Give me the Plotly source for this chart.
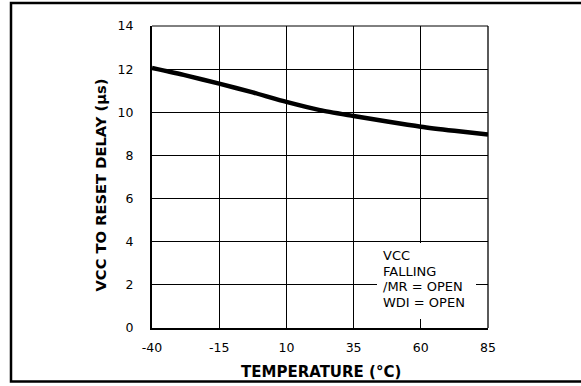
import plotly.graph_objects as go

# Reset delay vs temperature (VCC falling, /MR and WDI open)
temperature_c = [-40, -27.5, -15, -2.5, 10, 22.5, 35, 47.5, 60, 72.5, 85]
delay_us = [12.05, 11.71, 11.33, 10.92, 10.48, 10.10, 9.83, 9.57, 9.33, 9.14, 8.97]

x_ticks = [-40, -15, 10, 35, 60, 85]
y_ticks = [0, 2, 4, 6, 8, 10, 12, 14]
condition_lines = ["VCC", "FALLING", "/MR = OPEN", "WDI = OPEN"]

FONT = "DejaVu Sans, sans-serif"
W, H = 581, 386
L, R, T, B = 152, 93, 26, 58
PW, PH = W - L - R, H - T - B


def px_x(p):
    return (p - L) / PW


def px_y(p):
    return (H - B - p) / PH


fig = go.Figure()
fig.add_trace(go.Scatter(
    x=temperature_c, y=delay_us, mode="lines",
    line=dict(color="black", width=4.5, shape="spline", smoothing=0.6),
    hoverinfo="skip", showlegend=False,
))

shapes = [
    # outer frame around the whole figure
    dict(type="rect", xref="paper", yref="paper",
         x0=px_x(11), x1=px_x(620), y0=px_y(381.5), y1=px_y(3),
         line=dict(color="black", width=2.5), layer="above"),
    # top and right edges of the plot area
    dict(type="line", xref="paper", yref="paper", x0=0, x1=1, y0=1, y1=1,
         line=dict(color="black", width=1), layer="above"),
    dict(type="line", xref="paper", yref="paper", x0=1, x1=1, y0=0, y1=1,
         line=dict(color="black", width=1.3), layer="above"),
    # white panel behind the condition text
    dict(type="rect", xref="paper", yref="paper",
         x0=px_x(377), x1=px_x(476), y0=px_y(319), y1=px_y(243),
         fillcolor="white", line=dict(width=0), layer="above"),
]

annotations = []
for i, t in enumerate(condition_lines):
    annotations.append(dict(
        text=t, xref="paper", yref="paper",
        x=px_x(381), y=px_y(255.5 + i * 15.6),
        xanchor="left", yanchor="middle", showarrow=False,
        font=dict(family=FONT, size=13, color="black"),
    ))

annotations.append(dict(
    text="<b>TEMPERATURE (°C)</b>", xref="paper", yref="paper",
    x=px_x(321), y=px_y(372), xanchor="center", yanchor="middle", showarrow=False,
    font=dict(family=FONT, size=15, color="black"),
))
annotations.append(dict(
    text="<b>VCC TO RESET DELAY (µs)</b>", xref="paper", yref="paper",
    x=px_x(99.5), y=px_y(185), xanchor="center", yanchor="middle", showarrow=False,
    textangle=-90, font=dict(family=FONT, size=14.7, color="black"),
))

fig.update_layout(
    width=W, height=H,
    margin=dict(l=L, r=R, t=T, b=B, pad=0),
    paper_bgcolor="white", plot_bgcolor="white",
    font=dict(family=FONT, size=12.5, color="black"),
    shapes=shapes, annotations=annotations,
    xaxis=dict(
        range=[-40, 85], tickvals=x_ticks, ticktext=[str(v) for v in x_ticks],
        showgrid=True, gridcolor="black", gridwidth=1,
        showline=True, linecolor="black", linewidth=2,
        zeroline=False, ticks="", ticklabelstandoff=7,
        tickfont=dict(family=FONT, size=12.5, color="black"),
    ),
    yaxis=dict(
        range=[0, 14], tickvals=y_ticks, ticktext=[str(v) for v in y_ticks],
        showgrid=True, gridcolor="black", gridwidth=1,
        showline=True, linecolor="black", linewidth=2,
        zeroline=False, ticks="", ticklabelstandoff=14,
        tickfont=dict(family=FONT, size=12.5, color="black"),
    ),
)

fig.write_html("out.html")
